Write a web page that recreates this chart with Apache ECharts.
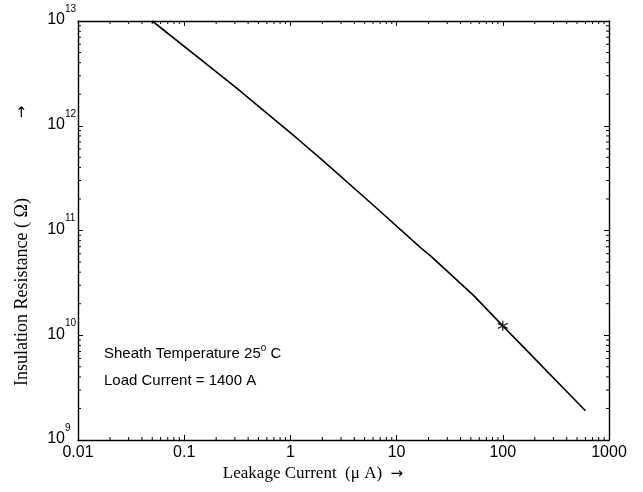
<!DOCTYPE html>
<html>
<head>
<meta charset="utf-8">
<script src="https://cdn.jsdelivr.net/npm/echarts@6/dist/echarts.min.js"></script>
<style>
html,body{margin:0;padding:0;background:#fff;}
#chart{width:643px;height:492px;}
</style>
</head>
<body>
<div id="chart"></div>
<script>
// Data
const leakageCurrent = [0.05, 0.175, 0.31, 1.15, 2.0, 6.5, 17, 21, 53, 100, 600];
const insulationResistance = [1e13, 3.65e12, 2.3e12, 7.6e11, 4.7e11, 1.63e11, 6.8e10, 5.7e10, 2.4e10, 1.23e10, 1.9e9];
const markerPoint = [[100, 1.23e10]];
const xTickLabels = ['0.01', '0.1', '1', '10', '100', '1000'];
const yTickBase = '10';
const yTickExponents = ['9', '10', '11', '12', '13'];
const yTickValues = [1e9, 1e10, 1e11, 1e12, 1e13];
const minorMultipliers = [2, 3, 4, 5, 6, 7, 8, 9];
const xDecades = [0.01, 0.1, 1, 10, 100];
const yDecades = [1e9, 1e10, 1e11, 1e12];
const annotationLine1 = 'Sheath Temperature 25';
const annotationLine2 = 'Load Current = 1400 A';

const xMinor = [];
xDecades.forEach(d => minorMultipliers.forEach(m => xMinor.push(d * m)));
const yMinor = [];
yDecades.forEach(d => minorMultipliers.forEach(m => yMinor.push(d * m)));

const chart = echarts.init(document.getElementById('chart'), null, {renderer: 'canvas'});
const sans = 'Liberation Sans, Arial, Helvetica, sans-serif';
const serif = 'Liberation Serif, Times New Roman, serif';
const arrowFont = 'DejaVu Sans, sans-serif';

const commonAxis = {
  type: 'log', logBase: 10,
  axisLine: {show: true, onZero: false, lineStyle: {color: '#000', width: 1.4}},
  axisTick: {show: true, inside: true, length: 5, lineStyle: {color: '#000', width: 1}},
  splitLine: {show: false},
  minorTick: {show: false}
};

const option = {
  animation: false,
  backgroundColor: '#fff',
  grid: {left: 78, right: 34, top: 21, bottom: 52, containLabel: false, outerBoundsMode: 'none'},
  xAxis: [
    Object.assign({}, commonAxis, {
      min: 0.01, max: 1000, position: 'bottom',
      axisLabel: {
        color: '#000', fontFamily: sans, fontSize: 16, margin: 5,
        formatter: function (v) {
          const e = Math.round(Math.log10(v));
          return xTickLabels[e + 2];
        }
      }
    }),
    Object.assign({}, commonAxis, {
      min: 0.01, max: 1000, position: 'top', axisLabel: {show: false}
    })
  ],
  yAxis: [
    Object.assign({}, commonAxis, {
      min: 1e9, max: 1e13, position: 'left', axisLabel: {show: false}
    }),
    Object.assign({}, commonAxis, {
      min: 1e9, max: 1e13, position: 'right', axisLabel: {show: false}
    })
  ],
  graphic: [
    {
      type: 'text', x: 313, y: 474,
      style: {
        text: '{t|Leakage Current  (\u03bc A)  }{a|\u2192}',
        align: 'center', verticalAlign: 'middle',
        rich: {
          t: {font: '17px ' + serif, fill: '#000'},
          a: {font: '15px ' + arrowFont, fill: '#000'}
        }
      }
    },
    {
      type: 'text', x: 22, y: 292, rotation: Math.PI / 2,
      style: {text: 'Insulation Resistance ( \u03a9)', font: '18px ' + serif, fill: '#000',
        align: 'center', verticalAlign: 'middle'}
    },
    {
      type: 'text', x: 22, y: 112, rotation: Math.PI / 2,
      style: {text: '\u2192', font: '15px ' + arrowFont, fill: '#000',
        align: 'center', verticalAlign: 'middle'}
    },
    {
      type: 'text', left: 104, top: 343,
      style: {
        text: '{t|' + annotationLine1 + '}{o|o}{t| C}',
        rich: {
          t: {font: '15px ' + sans, fill: '#000', verticalAlign: 'bottom'},
          o: {font: '10px ' + sans, fill: '#000', verticalAlign: 'bottom', padding: [0, 0, 8, 0]}
        }
      }
    },
    {
      type: 'text', left: 104, top: 373,
      style: {text: annotationLine2, font: '15px ' + sans, fill: '#000'}
    }
  ],
  series: [
    {
      type: 'line', xAxisIndex: 0, yAxisIndex: 0,
      data: leakageCurrent.map((x, i) => [x, insulationResistance[i]]),
      showSymbol: false, symbol: 'none',
      lineStyle: {color: '#000', width: 1.6},
      silent: true
    },
    {
      type: 'scatter', xAxisIndex: 0, yAxisIndex: 0,
      data: markerPoint,
      symbol: 'path://M0,-5L0,5M-4.33,-2.5L4.33,2.5M-4.33,2.5L4.33,-2.5',
      symbolSize: 10,
      itemStyle: {color: 'none', borderColor: '#000', borderWidth: 1.4},
      silent: true
    },
    {
      type: 'custom', xAxisIndex: 0, yAxisIndex: 0,
      data: xMinor.map(v => [v, 1e9]),
      encode: {x: 0, y: 1},
      silent: true, clip: false,
      renderItem: function (params, api) {
        const cs = params.coordSys;
        const px = api.coord([api.value(0), 1e9])[0];
        return {
          type: 'group',
          children: [
            {type: 'line', shape: {x1: px, y1: cs.y + cs.height, x2: px, y2: cs.y + cs.height - 3}, style: {stroke: '#000', lineWidth: 1}},
            {type: 'line', shape: {x1: px, y1: cs.y, x2: px, y2: cs.y + 3}, style: {stroke: '#000', lineWidth: 1}}
          ]
        };
      }
    },
    {
      type: 'custom', xAxisIndex: 0, yAxisIndex: 0,
      data: yMinor.map(v => [0.01, v]),
      encode: {x: 0, y: 1},
      silent: true, clip: false,
      renderItem: function (params, api) {
        const cs = params.coordSys;
        const py = api.coord([0.01, api.value(1)])[1];
        return {
          type: 'group',
          children: [
            {type: 'line', shape: {x1: cs.x, y1: py, x2: cs.x + 3, y2: py}, style: {stroke: '#000', lineWidth: 1}},
            {type: 'line', shape: {x1: cs.x + cs.width, y1: py, x2: cs.x + cs.width - 3, y2: py}, style: {stroke: '#000', lineWidth: 1}}
          ]
        };
      }
    },
    {
      // y-axis tick labels of the form 10^n, placed through the axis scale
      type: 'custom', xAxisIndex: 0, yAxisIndex: 0,
      data: yTickValues.map((v, i) => [0.01, v, i]),
      encode: {x: 0, y: 1},
      silent: true, clip: false,
      renderItem: function (params, api) {
        const cs = params.coordSys;
        const py = api.coord([0.01, api.value(1)])[1];
        const i = api.value(2);
        return {
          type: 'group',
          children: [
            {type: 'text', x: cs.x - 13, y: py - 1,
              style: {text: yTickBase, font: '16px ' + sans, fill: '#000', align: 'right', verticalAlign: 'middle'}},
            {type: 'text', x: cs.x - 13, y: py - 12,
              style: {text: yTickExponents[i], font: '10px ' + sans, fill: '#000', align: 'left', verticalAlign: 'middle'}}
          ]
        };
      }
    }
  ]
};
chart.setOption(option);
</script>
</body>
</html>
